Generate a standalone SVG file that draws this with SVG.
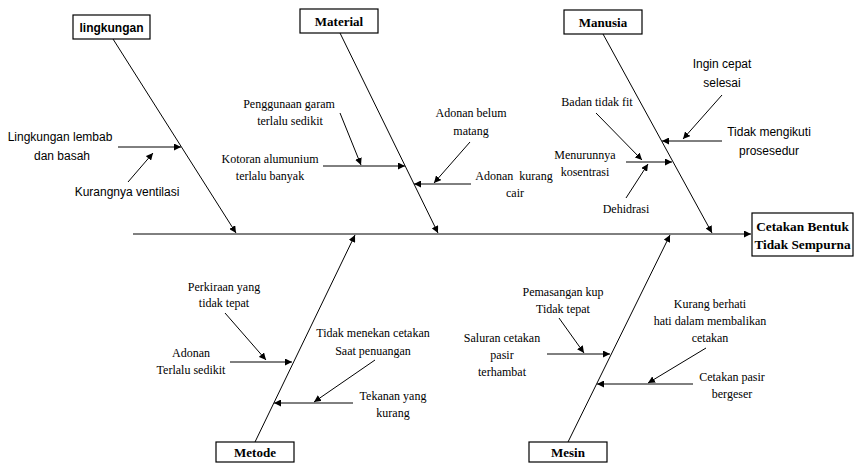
<svg xmlns="http://www.w3.org/2000/svg" width="855" height="463" viewBox="0 0 855 463">
<style>
.ln{stroke:#000;stroke-width:1;fill:none}
.bx{fill:#fff;stroke:#000;stroke-width:1.2}
.sf{font-family:"Liberation Serif","Times New Roman",serif;font-size:12px;fill:#000;text-anchor:middle}
.ss{font-family:"Liberation Sans",Arial,sans-serif;font-size:12px;fill:#000;text-anchor:middle}
.bs{font-family:"Liberation Serif","Times New Roman",serif;font-size:13px;font-weight:bold;fill:#000;text-anchor:middle}
.be{font-family:"Liberation Serif","Times New Roman",serif;font-size:13.3px;font-weight:bold;fill:#000;text-anchor:middle}
.bsans{font-family:"Liberation Sans",Arial,sans-serif;font-size:12px;font-weight:bold;fill:#000;text-anchor:middle}
</style>
<defs>
<marker id="ah" markerUnits="userSpaceOnUse" markerWidth="8" markerHeight="7" refX="7" refY="3.5" orient="auto">
<path d="M0,0 L7,3.5 L0,7 z" fill="#000"/>
</marker>
</defs>
<rect width="855" height="463" fill="#fff"/>
<g id="connectors">
<line class="ln" x1="133" y1="234" x2="751" y2="234" marker-end="url(#ah)"/>
<line class="ln" x1="113" y1="39" x2="236" y2="233" marker-end="url(#ah)"/>
<line class="ln" x1="340" y1="33" x2="438" y2="233" marker-end="url(#ah)"/>
<line class="ln" x1="603" y1="34" x2="712" y2="233" marker-end="url(#ah)"/>
<line class="ln" x1="255" y1="442" x2="355" y2="235" marker-end="url(#ah)"/>
<line class="ln" x1="568" y1="442" x2="670" y2="235" marker-end="url(#ah)"/>
<line class="ln" x1="118" y1="147" x2="181" y2="147" marker-end="url(#ah)"/>
<line class="ln" x1="128" y1="182" x2="153" y2="153" marker-end="url(#ah)"/>
<line class="ln" x1="323" y1="166" x2="405" y2="166" marker-end="url(#ah)"/>
<line class="ln" x1="340" y1="113" x2="361" y2="165" marker-end="url(#ah)"/>
<line class="ln" x1="471" y1="184" x2="414" y2="184" marker-end="url(#ah)"/>
<line class="ln" x1="470" y1="142" x2="434" y2="183" marker-end="url(#ah)"/>
<line class="ln" x1="722" y1="141" x2="662" y2="141" marker-end="url(#ah)"/>
<line class="ln" x1="722" y1="95" x2="683" y2="139" marker-end="url(#ah)"/>
<line class="ln" x1="626" y1="162" x2="672" y2="162" marker-end="url(#ah)"/>
<line class="ln" x1="596" y1="113" x2="642" y2="160" marker-end="url(#ah)"/>
<line class="ln" x1="626" y1="198" x2="648" y2="164" marker-end="url(#ah)"/>
<line class="ln" x1="230" y1="362" x2="292" y2="362" marker-end="url(#ah)"/>
<line class="ln" x1="225" y1="313" x2="266" y2="360" marker-end="url(#ah)"/>
<line class="ln" x1="353" y1="403" x2="274" y2="403" marker-end="url(#ah)"/>
<line class="ln" x1="375" y1="360" x2="314" y2="402" marker-end="url(#ah)"/>
<line class="ln" x1="547" y1="354" x2="610" y2="354" marker-end="url(#ah)"/>
<line class="ln" x1="559" y1="318" x2="584" y2="353" marker-end="url(#ah)"/>
<line class="ln" x1="693" y1="384" x2="597" y2="384" marker-end="url(#ah)"/>
<line class="ln" x1="706" y1="348" x2="648" y2="383" marker-end="url(#ah)"/>
</g>
<g id="lingkungan">
<rect class="bx" x="73" y="15" width="77" height="24"/>
<text class="bsans" x="111.5" y="32">lingkungan</text>
</g>
<g id="material">
<rect class="bx" x="300" y="9" width="78" height="24"/>
<text class="bs" x="339" y="26">Material</text>
</g>
<g id="manusia">
<rect class="bx" x="564" y="10" width="78" height="24"/>
<text class="bs" x="603" y="27">Manusia</text>
</g>
<g id="metode">
<rect class="bx" x="216" y="442" width="78" height="20"/>
<text class="bs" x="255" y="457">Metode</text>
</g>
<g id="mesin">
<rect class="bx" x="529" y="442" width="78" height="20"/>
<text class="bs" x="568" y="457">Mesin</text>
</g>
<g id="effect">
<rect class="bx" x="752" y="213" width="101" height="43"/>
<text class="be" x="802.5" y="231">Cetakan Bentuk</text>
<text class="be" x="802.5" y="249">Tidak Sempurna</text>
</g>
<g id="causes-lingkungan">
<text class="ss" x="60" y="141">Lingkungan lembab</text>
<text class="ss" x="62" y="160">dan basah</text>
<text class="ss" x="127" y="196">Kurangnya ventilasi</text>
</g>
<g id="causes-material">
<text class="sf" x="289" y="108">Penggunaan garam</text>
<text class="sf" x="290" y="125">terlalu sedikit</text>
<text class="sf" x="270" y="163">Kotoran alumunium</text>
<text class="sf" x="270" y="180">terlalu banyak</text>
<text class="sf" x="471" y="117">Adonan belum</text>
<text class="sf" x="471" y="135">matang</text>
<text class="sf" x="514" y="180" xml:space="preserve">Adonan  kurang</text>
<text class="sf" x="515" y="197">cair</text>
</g>
<g id="causes-manusia">
<text class="ss" x="722" y="68">Ingin cepat</text>
<text class="ss" x="722" y="87">selesai</text>
<text class="sf" x="597" y="106">Badan tidak fit</text>
<text class="ss" x="769" y="136">Tidak mengikuti</text>
<text class="ss" x="769" y="155">prosesedur</text>
<text class="sf" x="585" y="159">Menurunnya</text>
<text class="sf" x="585" y="176">kosentrasi</text>
<text class="sf" x="626" y="213">Dehidrasi</text>
</g>
<g id="causes-metode">
<text class="sf" x="224" y="291">Perkiraan yang</text>
<text class="sf" x="224" y="307">tidak tepat</text>
<text class="sf" x="191" y="357">Adonan</text>
<text class="sf" x="191" y="374">Terlalu sedikit</text>
<text class="sf" x="373" y="337">Tidak menekan cetakan</text>
<text class="sf" x="373" y="355">Saat penuangan</text>
<text class="sf" x="393" y="400">Tekanan yang</text>
<text class="sf" x="393" y="417">kurang</text>
</g>
<g id="causes-mesin">
<text class="sf" x="563" y="296">Pemasangan kup</text>
<text class="sf" x="563" y="313">Tidak tepat</text>
<text class="sf" x="502" y="342">Saluran cetakan</text>
<text class="sf" x="502" y="359">pasir</text>
<text class="sf" x="502" y="376">terhambat</text>
<text class="sf" x="710" y="308">Kurang berhati</text>
<text class="sf" x="710" y="325">hati dalam membalikan</text>
<text class="sf" x="710" y="342">cetakan</text>
<text class="sf" x="732" y="381">Cetakan pasir</text>
<text class="sf" x="732" y="398">bergeser</text>
</g>
</svg>
